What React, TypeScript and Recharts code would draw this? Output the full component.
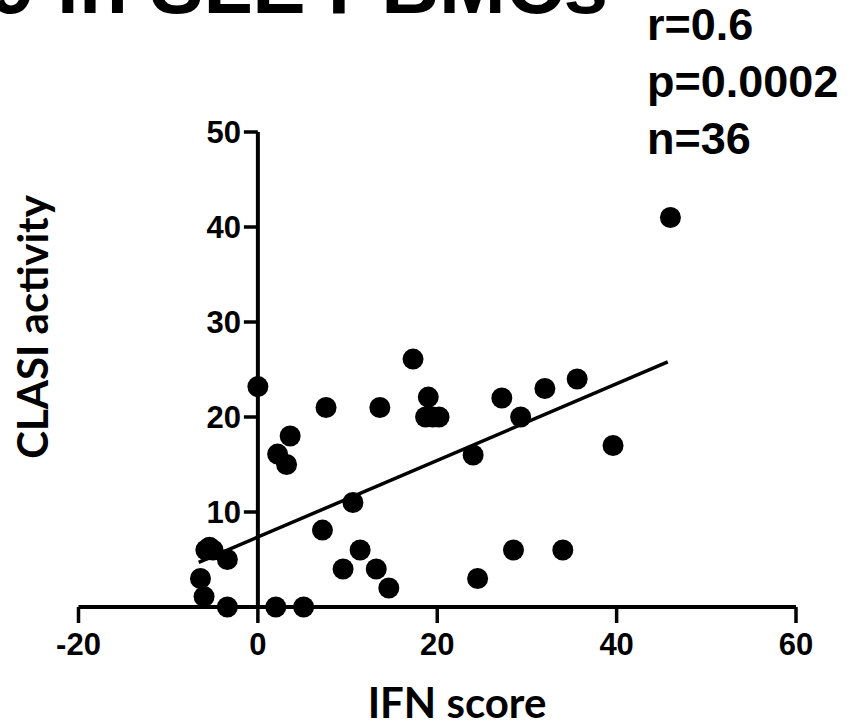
import { ReferenceLine, Scatter, ScatterChart, XAxis, YAxis } from 'recharts'

// IFN score vs CLASI activity, one entry per patient
const ifnScore = [
  0, 7.6, 13.6, 3.6, 2.2, 3.2, 10.6, 7.2, -5.8, -5.0, -5.4, -3.4, -6.4, -6.0, -3.4, 2.0, 5.1, 9.5,
  11.4, 13.2, 14.6, 17.3, 19.0, 18.7, 19.5, 20.2, 27.2, 32.0, 35.6, 29.3, 24.0, 39.6, 28.5, 34.0,
  24.5, 46.0,
]
const clasiActivity = [
  23.2, 21.0, 21.0, 18.0, 16.1, 15.0, 11.0, 8.1, 6.0, 6.0, 6.3, 5.0, 3.0, 1.1, 0, 0, 0, 4.0, 6.0,
  4.0, 2.0, 26.1, 22.1, 20.0, 20.0, 20.0, 22.0, 23.0, 24.0, 20.0, 16.0, 17.0, 6.0, 6.0, 3.0, 41.0,
]

// regression line end points
const fitIfn = [-6.6, 45.7]
const fitClasi = [4.7, 25.8]

const xTicks = [-20, 0, 20, 40, 60]
const yTicks = [10, 20, 30, 40, 50]
const stats = ['r=0.6', 'p=0.0002', 'n=36']
const title = '9 in SLE PBMCs'

const W = 865
const H = 727
const Y_AXIS_W = 20
const MARGIN = { top: 132, right: 69, bottom: 60, left: 78.5 - Y_AXIS_W }
const X_DOMAIN: [number, number] = [-20, 60]
const PLOT_LEFT = MARGIN.left + Y_AXIS_W
const PLOT_W = W - PLOT_LEFT - MARGIN.right
// y axis crosses at IFN score = 0
const Y_AXIS_PX = PLOT_LEFT + (PLOT_W * (0 - X_DOMAIN[0])) / (X_DOMAIN[1] - X_DOMAIN[0])

const arial = '"Liberation Sans", Arial, sans-serif'
const labelFont = 'Lato, "Open Sans", sans-serif'

const points = ifnScore.map((x, i) => ({ x, y: clasiActivity[i] }))
const fit = fitIfn.map((x, i) => ({ x, y: fitClasi[i] }))

function Dot(props: any) {
  return <circle cx={props.cx} cy={props.cy} r={10.5} fill="#000" />
}

function YTick(props: any) {
  const { y, payload } = props
  return (
    <g>
      <line x1={Y_AXIS_PX - 14} x2={Y_AXIS_PX} y1={y} y2={y} stroke="#000" strokeWidth={3.5} />
      <text
        x={Y_AXIS_PX - 17}
        y={y}
        dy="0.36em"
        textAnchor="end"
        fill="#000"
        fontSize={31}
        fontWeight={700}
        fontFamily={arial}
      >
        {payload.value}
      </text>
    </g>
  )
}

export default function App() {
  return (
    <div style={{ position: 'absolute', left: 0, top: 0, width: W, height: H, background: '#fff' }}>
      <ScatterChart width={W} height={H} margin={MARGIN}>
        <XAxis
          type="number"
          dataKey="x"
          domain={X_DOMAIN}
          ticks={xTicks}
          interval={0}
          height={60}
          tickSize={16}
          tickMargin={10}
          axisLine={{ stroke: '#000', strokeWidth: 4 }}
          tickLine={{ stroke: '#000', strokeWidth: 3.5 }}
          tick={{ fill: '#000', fontSize: 31, fontWeight: 700, fontFamily: arial }}
        />
        <YAxis
          type="number"
          dataKey="y"
          domain={[0, 50]}
          ticks={yTicks}
          interval={0}
          width={Y_AXIS_W}
          axisLine={false}
          tickLine={false}
          tick={(props: any) => <YTick {...props} />}
        />
        <ReferenceLine x={0} stroke="#000" strokeWidth={4} />
        <Scatter data={fit} line={{ stroke: '#000', strokeWidth: 3.5 }} shape={() => <g />} isAnimationActive={false} />
        <Scatter data={points} shape={Dot} isAnimationActive={false} />
      </ScatterChart>
      <svg
        width={W}
        height={H}
        style={{ position: 'absolute', left: 0, top: 0, pointerEvents: 'none' }}
      >
        <text x={-10} y={12.5} fontSize={80} fontWeight={700} fontFamily={arial} fill="#000">
          {title}
        </text>
        {stats.map((s, i) => (
          <text
            key={s}
            x={647}
            y={40 + i * 57}
            fontSize={45}
            fontWeight={700}
            fontFamily={arial}
            fill="#000"
          >
            {s}
          </text>
        ))}
        <text
          x={457}
          y={718}
          textAnchor="middle"
          fontSize={42}
          fontWeight={700}
          fontFamily={labelFont}
          fill="#000"
        >
          IFN score
        </text>
        <text
          transform="translate(48 327) rotate(-90)"
          textAnchor="middle"
          fontSize={42}
          fontWeight={700}
          fontFamily={labelFont}
          fill="#000"
        >
          CLASI activity
        </text>
      </svg>
    </div>
  )
}
